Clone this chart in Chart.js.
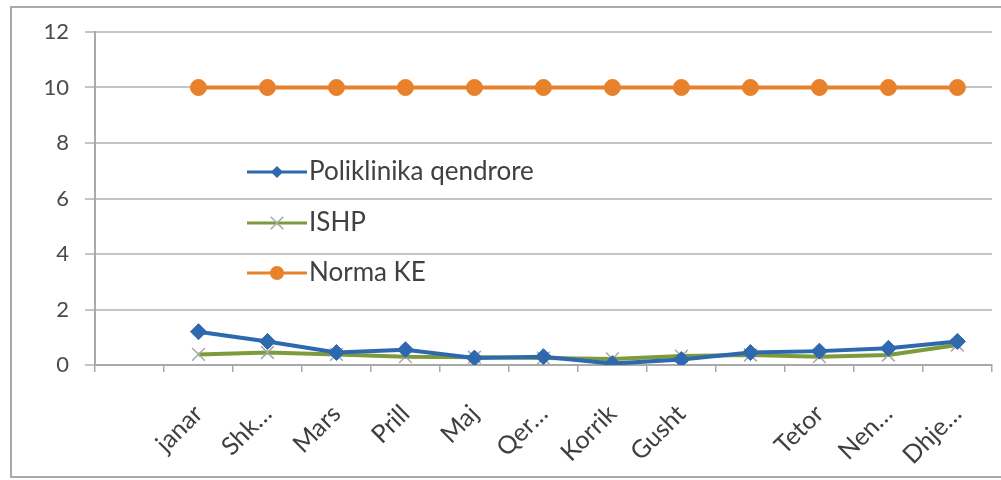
<!DOCTYPE html>
<html>
<head>
<meta charset="utf-8">
<script src="https://cdn.jsdelivr.net/npm/chart.js@4.4.1/dist/chart.umd.min.js"></script>
<style>
  html, body { margin: 0; padding: 0; background: #ffffff; overflow: hidden; }
  #wrap { width: 1006px; height: 480px; position: relative; }
</style>
</head>
<body>
<div id="wrap"><canvas id="c"></canvas></div>
<script>
const categories = ["", "janar", "Shk…", "Mars", "Prill", "Maj", "Qer…", "Korrik", "Gusht", "", "Tetor", "Nen…", "Dhje…"];
const seriesNames = ["Poliklinika qendrore", "ISHP", "Norma KE"];
const poliklinika = [null, 1.2, 0.85, 0.45, 0.55, 0.25, 0.3, 0.05, 0.2, 0.45, 0.5, 0.6, 0.85];
const ishp = [null, 0.38, 0.45, 0.38, 0.3, 0.28, 0.25, 0.22, 0.32, 0.36, 0.3, 0.36, 0.72];
const normaKE = [null, 10, 10, 10, 10, 10, 10, 10, 10, 10, 10, 10, 10];
const yTicks = [0, 2, 4, 6, 8, 10, 12];

const BLUE = '#2e68ae', GREEN = '#7d9a3c', ORANGE = '#e8812c', XGRAY = '#a8a8a8';
const FONT = 'Lato, "Open Sans", sans-serif';

const framePlugin = {
  id: 'frame',
  beforeDraw(chart) {
    const ctx = chart.ctx;
    ctx.save();
    ctx.fillStyle = '#ffffff';
    ctx.fillRect(0, 0, chart.width, chart.height);
    ctx.strokeStyle = '#a9a9a9';
    ctx.lineWidth = 2;
    ctx.strokeRect(11, 7, chart.width + 20, 470);
    ctx.restore();
  }
};

function drawMarker(ctx, style, x, y, r, color) {
  ctx.save();
  if (style === 'rectRot') {
    ctx.fillStyle = color;
    ctx.beginPath();
    ctx.moveTo(x, y - r); ctx.lineTo(x + r, y); ctx.lineTo(x, y + r); ctx.lineTo(x - r, y);
    ctx.closePath(); ctx.fill();
  } else if (style === 'circle') {
    ctx.fillStyle = color;
    ctx.beginPath(); ctx.arc(x, y, r, 0, Math.PI * 2); ctx.fill();
  } else if (style === 'crossRot') {
    ctx.strokeStyle = color; ctx.lineWidth = 1.5;
    ctx.beginPath();
    ctx.moveTo(x - r * 0.7, y - r * 0.7); ctx.lineTo(x + r * 0.7, y + r * 0.7);
    ctx.moveTo(x + r * 0.7, y - r * 0.7); ctx.lineTo(x - r * 0.7, y + r * 0.7);
    ctx.stroke();
  }
  ctx.restore();
}

const legendPlugin = {
  id: 'innerLegend',
  afterDraw(chart) {
    const ctx = chart.ctx;
    const a = chart.chartArea;
    const x0 = a.left + 152, x1 = a.left + 212, tx = a.left + 214;
    const rows = [a.top + 140, a.top + 191, a.top + 241];
    ctx.save();
    chart.data.datasets.forEach((ds, i) => {
      const y = rows[i];
      ctx.strokeStyle = ds.borderColor;
      ctx.lineWidth = 3;
      ctx.beginPath(); ctx.moveTo(x0, y); ctx.lineTo(x1, y); ctx.stroke();
      const mc = ds.pointStyle === 'crossRot' ? XGRAY : ds.pointBackgroundColor;
      const mr = ds.pointStyle === 'circle' ? 7 : (ds.pointStyle === 'crossRot' ? 9 : 6);
      drawMarker(ctx, ds.pointStyle, (x0 + x1) / 2, y, mr, mc);
      ctx.fillStyle = '#404040';
      ctx.font = '26px ' + FONT;
      ctx.textAlign = 'left';
      ctx.textBaseline = 'middle';
      ctx.fillText(ds.label, tx, y);
    });
    ctx.restore();
  }
};

new Chart(document.getElementById('c'), {
  type: 'line',
  data: {
    labels: categories,
    datasets: [
      { label: seriesNames[0], data: poliklinika, borderColor: BLUE, backgroundColor: BLUE,
        pointBackgroundColor: BLUE, pointBorderColor: BLUE, borderWidth: 4,
        pointStyle: 'rectRot', pointRadius: 8, pointBorderWidth: 1, tension: 0 },
      { label: seriesNames[1], data: ishp, borderColor: GREEN, backgroundColor: GREEN,
        pointBackgroundColor: XGRAY, pointBorderColor: XGRAY, borderWidth: 4,
        pointStyle: 'crossRot', pointRadius: 9, pointBorderWidth: 1.5, tension: 0 },
      { label: seriesNames[2], data: normaKE, borderColor: ORANGE, backgroundColor: ORANGE,
        pointBackgroundColor: ORANGE, pointBorderColor: ORANGE, borderWidth: 4,
        pointStyle: 'circle', pointRadius: 8, pointBorderWidth: 1, tension: 0 }
    ]
  },
  options: {
    responsive: true,
    maintainAspectRatio: false,
    animation: false,
    layout: { padding: { left: 0, right: 0, top: 32, bottom: 0 } },
    plugins: { legend: { display: false }, tooltip: { enabled: false } },
    scales: {
      x: {
        offset: true,
        grid: { offset: true, drawOnChartArea: false, drawTicks: true, tickLength: 7,
                color: '#a9a9a9', lineWidth: 1.5 },
        border: { display: true, color: '#a9a9a9', width: 2 },
        ticks: { autoSkip: false, minRotation: 45, maxRotation: 45, padding: 27,
                 color: '#3f3f3f', font: { family: FONT, size: 25 } },
        afterFit(scale) { scale.height = 115; }
      },
      y: {
        min: 0, max: 12,
        afterBuildTicks(scale) { scale.ticks = yTicks.map(v => ({ value: v })); },
        grid: { color: '#c4c4c4', lineWidth: 2, tickLength: 10, drawTicks: true },
        border: { display: true, color: '#a9a9a9', width: 2 },
        ticks: { padding: 16, color: '#4a4a4a', font: { family: FONT, size: 22 } },
        afterFit(scale) { scale.width = 95; }
      }
    }
  },
  plugins: [framePlugin, legendPlugin]
});
</script>
</body>
</html>
